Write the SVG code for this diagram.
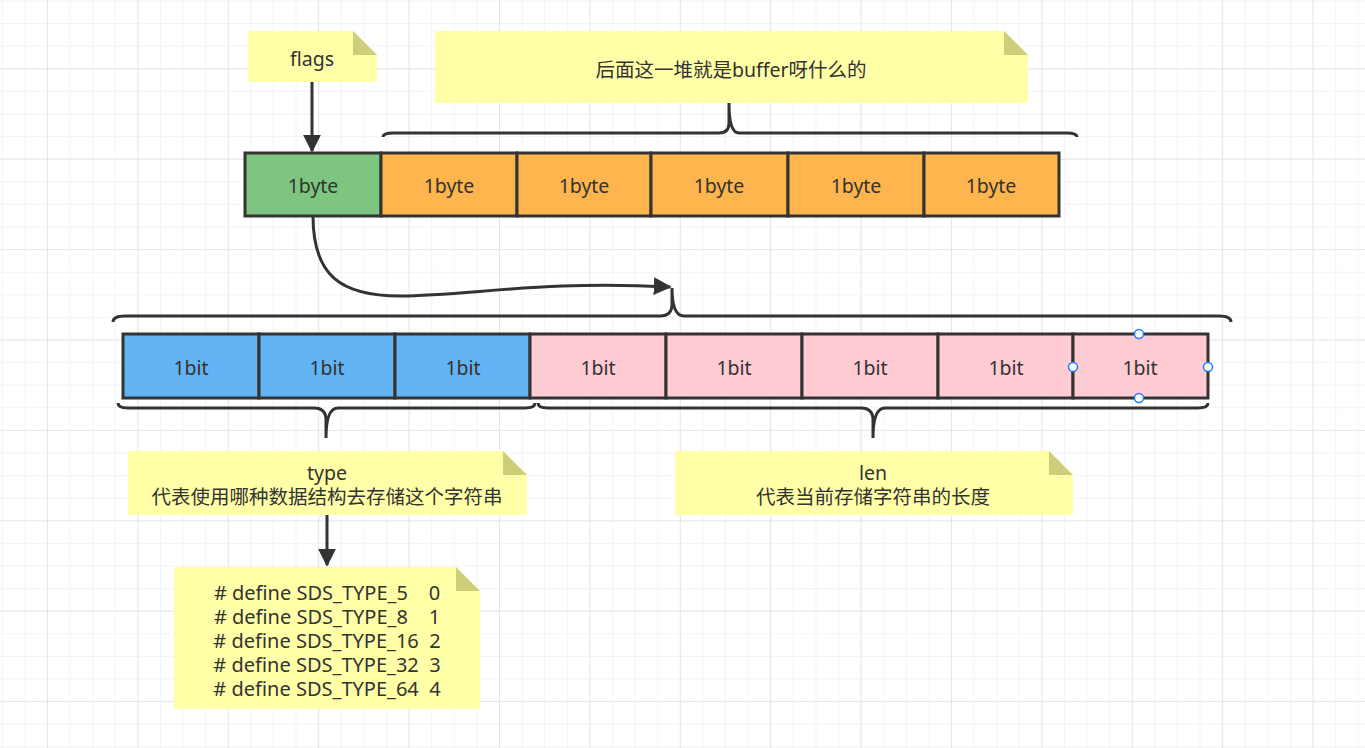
<svg xmlns="http://www.w3.org/2000/svg" width="1365" height="748" viewBox="0 0 1365 748">
<defs>
<pattern id="minor" x="1.8" y="0.5" width="22.6" height="22.6" patternUnits="userSpaceOnUse">
<path d="M0 0H22.6M0 0V22.6" fill="none" stroke="#efefef" stroke-width="1.5"/>
</pattern>
<pattern id="major" x="47" y="68.3" width="90.4" height="90.4" patternUnits="userSpaceOnUse">
<path d="M0 0H90.4M0 0V90.4" fill="none" stroke="#e2e2e2" stroke-width="1.5"/>
</pattern>
<marker id="arr2" viewBox="0 0 10 10" refX="9" refY="5" markerWidth="6" markerHeight="6" orient="auto">
<path d="M0 0L10 5L0 10z" fill="#333"/>
</marker>
</defs>
<style>
text{font-family:"Noto Sans","Noto Sans CJK SC",sans-serif;font-size:19.5px;fill:#333;text-anchor:middle;dominant-baseline:central}
.def{font-size:20px}
.note{fill:#ffffa8}
.fold{fill:#cdcd7a}
.cell{stroke:#333;stroke-width:3}
.g{fill:#7ec57f}.o{fill:#ffb54d}.b{fill:#63b4f5}.p{fill:#ffccd3}
.line{fill:none;stroke:#333;stroke-width:3}
.h{fill:#fff;stroke:#1a7fff;stroke-width:1.5}
</style>
<rect width="1365" height="748" fill="#fff"/>
<rect width="1365" height="748" fill="url(#minor)"/>
<rect width="1365" height="748" fill="url(#major)"/>

<g id="note-flags">
<path class="note" d="M248 31H353L377 55V82H248z"/>
<path class="fold" d="M353 31L377 55H353z"/>
<text x="312" y="58">flags</text>
</g>
<g id="note-buffer">
<path class="note" d="M435 31H1004L1028 55V103H435z"/>
<path class="fold" d="M1004 31L1028 55H1004z"/>
<text x="731" y="69">后面这一堆就是buffer呀什么的</text>
</g>

<g id="bytes">
<rect class="cell g" x="245" y="153" width="136" height="63"/>
<rect class="cell o" x="381" y="153" width="136" height="63"/>
<rect class="cell o" x="517" y="153" width="134" height="63"/>
<rect class="cell o" x="651" y="153" width="137" height="63"/>
<rect class="cell o" x="788" y="153" width="136" height="63"/>
<rect class="cell o" x="924" y="153" width="135" height="63"/>
<text x="313" y="185">1byte</text>
<text x="449" y="185">1byte</text>
<text x="584" y="185">1byte</text>
<text x="719" y="185">1byte</text>
<text x="856" y="185">1byte</text>
<text x="991" y="185">1byte</text>
</g>

<g id="bits">
<rect class="cell b" x="123" y="334" width="136" height="64"/>
<rect class="cell b" x="259" y="334" width="136" height="64"/>
<rect class="cell b" x="395" y="334" width="135" height="64"/>
<rect class="cell p" x="530" y="334" width="136" height="64"/>
<rect class="cell p" x="666" y="334" width="136" height="64"/>
<rect class="cell p" x="802" y="334" width="136" height="64"/>
<rect class="cell p" x="938" y="334" width="135" height="64"/>
<rect class="cell p" x="1073" y="334" width="135" height="64"/>
<text x="191" y="367">1bit</text>
<text x="327" y="367">1bit</text>
<text x="463" y="367">1bit</text>
<text x="598" y="367">1bit</text>
<text x="734" y="367">1bit</text>
<text x="870" y="367">1bit</text>
<text x="1006" y="367">1bit</text>
<text x="1140" y="367">1bit</text>
</g>

<g id="selection">
<circle class="h" cx="1139" cy="334" r="4.5"/>
<circle class="h" cx="1073" cy="367" r="4.5"/>
<circle class="h" cx="1208" cy="367" r="4.5"/>
<circle class="h" cx="1139" cy="398" r="4.5"/>
</g>

<g id="note-type">
<path class="note" d="M128 451H503L527 475V515H128z"/>
<path class="fold" d="M503 451L527 475H503z"/>
<text x="327" y="472">type</text>
<text x="327" y="496">代表使用哪种数据结构去存储这个字符串</text>
</g>
<g id="note-len">
<path class="note" d="M675 451H1049L1073 475V515H675z"/>
<path class="fold" d="M1049 451L1073 475H1049z"/>
<text x="873" y="472">len</text>
<text x="873" y="496">代表当前存储字符串的长度</text>
</g>
<g id="note-define">
<path class="note" d="M174 567H456L480 591V709H174z"/>
<path class="fold" d="M456 567L480 591H456z"/>
<text class="def" x="327" y="592" xml:space="preserve"># define SDS_TYPE_5    0</text>
<text class="def" x="327" y="616" xml:space="preserve"># define SDS_TYPE_8    1</text>
<text class="def" x="327" y="640" xml:space="preserve"># define SDS_TYPE_16  2</text>
<text class="def" x="327" y="664" xml:space="preserve"># define SDS_TYPE_32  3</text>
<text class="def" x="327" y="688" xml:space="preserve"># define SDS_TYPE_64  4</text>
</g>

<g id="connectors">
<path class="line" d="M312 82V151" marker-end="url(#arr2)"/>
<path class="line" d="M313 216C313 275 340 296 400 296C470 296 540 280 670 287" marker-end="url(#arr2)"/>
<path class="line" d="M327 515V565" marker-end="url(#arr2)"/>
<path class="line" d="M383 137Q383 133 393 133H719Q729 133 729 123V103Q729 133 739 133H1067Q1077 133 1077 137" stroke-width="2.5"/>
<path class="line" d="M113 322Q113 316 125 316H660Q672 316 672 304V288Q672 316 684 316H1219Q1231 316 1231 322" stroke-width="2.5"/>
<path class="line" d="M118 403Q118 408 128 408H314Q326 408 326 420V438Q326 408 338 408H525Q535 408 535 403" stroke-width="2.5"/>
<path class="line" d="M538 403Q538 408 548 408H861Q873 408 873 420V438Q873 408 885 408H1198Q1208 408 1208 403" stroke-width="2.5"/>
</g>
</svg>
